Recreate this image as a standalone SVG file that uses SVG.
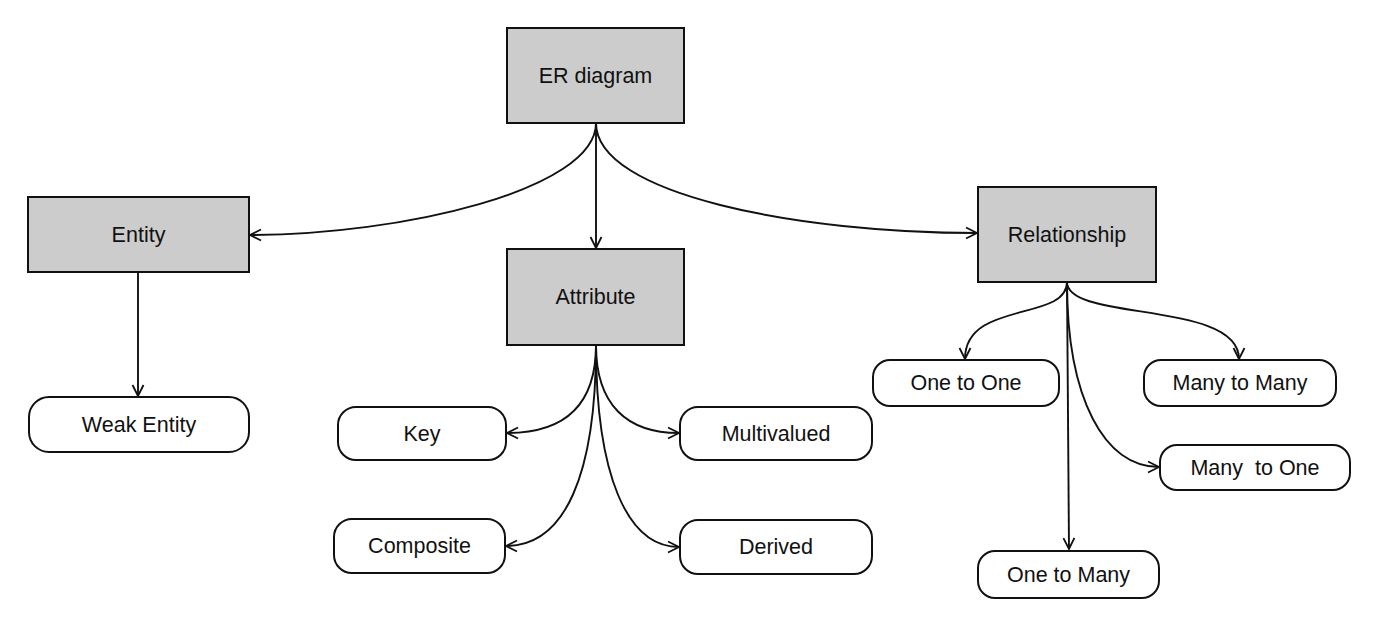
<svg xmlns="http://www.w3.org/2000/svg" width="1379" height="627" viewBox="0 0 1379 627">
<style>
.box{fill:#cccccc;stroke:#111;stroke-width:2}
.rnd{fill:#fff;stroke:#111;stroke-width:2}
text{font-family:"Liberation Sans",Arial,sans-serif;font-size:21.5px;fill:#111;text-anchor:middle;dominant-baseline:central;white-space:pre}
.c path{fill:none;stroke:#111;stroke-width:1.9;marker-end:url(#ah)}
</style>
<defs>
<marker id="ah" markerUnits="userSpaceOnUse" markerWidth="14" markerHeight="14" viewBox="0 0 14 14" refX="12" refY="7" orient="auto">
<path d="M1,1.5 L12,7 L1,12.5" fill="none" stroke="#111" stroke-width="1.8"/>
</marker>
</defs>
<rect width="1379" height="627" fill="#fff"/>
<g class="c" id="connectors">
<path d="M596,123 L596,248"/>
<path d="M596,123 C596,190 400,235 250,235"/>
<path d="M596,123 C596,195 800,233 977,233"/>
<path d="M138,272 L138,396"/>
<path d="M596,345 C596,405 565,433 507,433"/>
<path d="M596,345 C596,405 627,433 679,433"/>
<path d="M596,345 C596,475 565,546 506,546"/>
<path d="M596,345 C596,475 627,547 679,547"/>
<path d="M1067,282 C1067,322 965,300 965,359"/>
<path d="M1067,282 C1067,322 1239,300 1239,359"/>
<path d="M1067,282 C1067,400 1105,467 1159,467"/>
<path d="M1067,282 L1069,549"/>
</g>
<g id="er"><rect class="box" x="507" y="28" width="177" height="95"/><text x="595.5" y="75.5">ER diagram</text></g>
<g id="entity"><rect class="box" x="28" y="197" width="221" height="75"/><text x="138.5" y="234.5">Entity</text></g>
<g id="attribute"><rect class="box" x="507" y="249" width="177" height="96"/><text x="595.5" y="297">Attribute</text></g>
<g id="relationship"><rect class="box" x="978" y="187" width="178" height="95"/><text x="1067" y="234.5">Relationship</text></g>
<g id="weak"><rect class="rnd" x="29" y="397" width="220" height="55" rx="20"/><text x="139" y="424.5">Weak Entity</text></g>
<g id="key"><rect class="rnd" x="338" y="407" width="168" height="53" rx="18"/><text x="422" y="433.5">Key</text></g>
<g id="multivalued"><rect class="rnd" x="680" y="407" width="192" height="53" rx="18"/><text x="776" y="433.5">Multivalued</text></g>
<g id="composite"><rect class="rnd" x="334" y="519" width="171" height="54" rx="18"/><text x="419.5" y="546">Composite</text></g>
<g id="derived"><rect class="rnd" x="680" y="520" width="192" height="54" rx="18"/><text x="776" y="547">Derived</text></g>
<g id="oneone"><rect class="rnd" x="873" y="360" width="186" height="46" rx="17"/><text x="966" y="383">One to One</text></g>
<g id="manymany"><rect class="rnd" x="1144" y="360" width="192" height="46" rx="17"/><text x="1240" y="383">Many to Many</text></g>
<g id="manyone"><rect class="rnd" x="1160" y="445" width="190" height="45" rx="17"/><text x="1255" y="467.5">Many  to One</text></g>
<g id="onemany"><rect class="rnd" x="978" y="551" width="181" height="47" rx="17"/><text x="1068.5" y="574.5">One to Many</text></g>
</svg>
